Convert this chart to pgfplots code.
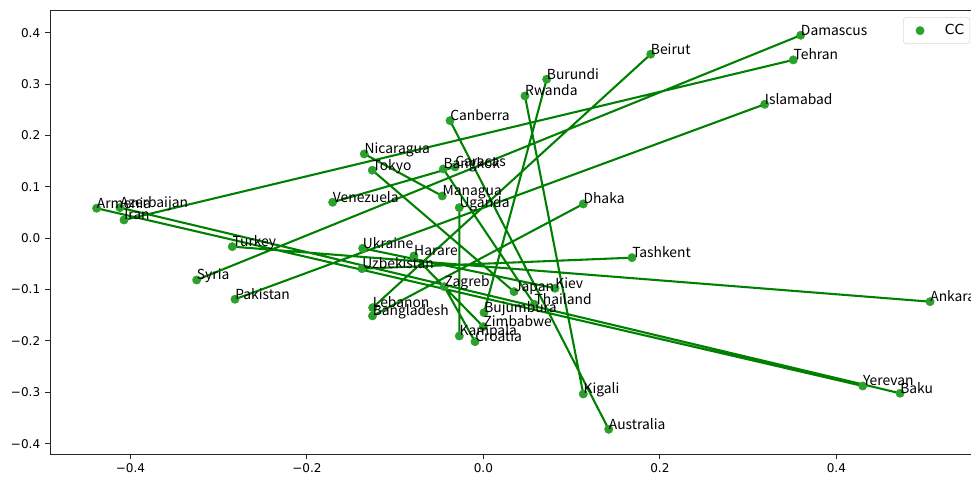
\documentclass[border=0pt]{standalone}
\usepackage{fontspec}
\setmainfont{DejaVu Sans}
\newfontfamily\jpfont{Noto Sans CJK JP}
\usepackage{pgfplots}
\usepackage{pgfplotstable}
\pgfplotsset{compat=1.18}
\definecolor{scat}{RGB}{44,160,44}
\definecolor{ln}{RGB}{0,128,0}

\pgfplotstableread{
x y label
-0.4383 0.0582 Armenia
0.4299 -0.2877 Yerevan
nan nan -
-0.4119 0.0594 Azerbaijan
0.4722 -0.3019 Baku
nan nan -
-0.4073 0.0354 Iran
0.3512 0.3469 Tehran
nan nan -
-0.3249 -0.0814 Syria
0.3596 0.3949 Damascus
nan nan -
-0.2815 -0.1189 Pakistan
0.3188 0.2606 Islamabad
nan nan -
-0.2846 -0.0165 Turkey
0.5062 -0.1236 Ankara
nan nan -
-0.1255 -0.1353 Lebanon
0.1896 0.3580 Beirut
nan nan -
-0.1257 -0.1514 Bangladesh
0.1132 0.0666 Dhaka
nan nan -
-0.1376 -0.0594 Uzbekistan
0.1684 -0.0380 Tashkent
nan nan -
-0.1368 -0.0197 Ukraine
0.0812 -0.0975 Kiev
nan nan -
-0.1708 0.0699 Venezuela
-0.0322 0.1387 Caracas
nan nan -
-0.1350 0.1639 Nicaragua
-0.0466 0.0821 Managua
nan nan -
0.0347 -0.1041 Japan
-0.1259 0.1322 Tokyo
nan nan -
0.0577 -0.1287 Thailand
-0.0454 0.1347 Bangkok
nan nan -
0.1420 -0.3720 Australia
-0.0378 0.2287 Canberra
nan nan -
-0.0095 -0.2015 Croatia
-0.0443 -0.0944 Zagreb
nan nan -
-0.0001 -0.1723 Zimbabwe
-0.0787 -0.0346 Harare
nan nan -
-0.0273 0.0594 Uganda
-0.0273 -0.1904 Kampala
nan nan -
0.0471 0.2768 Rwanda
0.1132 -0.3033 Kigali
nan nan -
0.0717 0.3093 Burundi
0.0007 -0.1450 Bujumbura
}\cc

\begin{document}
\begin{tikzpicture}
\begin{axis}[
  scale only axis,
  width=670pt, height=320.6pt,
  xmin=-0.4912, xmax=0.5594, ymin=-0.4206, ymax=0.4428,
  axis line style={black!85, line width=0.6pt},
  tick align=outside, tick pos=left,
  major tick length=3.5pt,
  every tick/.style={black!85, line width=0.6pt},
  xtick={-0.4,-0.2,0,0.2,0.4},
  xticklabels={−0.4,−0.2,0.0,0.2,0.4},
  ytick={-0.4,-0.3,-0.2,-0.1,0,0.1,0.2,0.3,0.4},
  yticklabels={−0.4,−0.3,−0.2,−0.1,0.0,0.1,0.2,0.3,0.4},
  ticklabel style={font=\fontsize{8.7}{10}\selectfont},
  legend style={at={(1,1)}, anchor=north east, xshift=-5pt, yshift=-4.8pt,
    draw=black!15, rounded corners=2pt, fill=white,
    font=\fontsize{10}{12}\selectfont, inner xsep=2pt, inner ysep=3pt},
  legend image code/.code={\path[draw=none, fill=none] (0pt,-4pt) (26pt,4pt);
    \draw[#1, sharp corners] plot coordinates {(10pt,0pt)};},
  clip=false,
]
\coordinate (sw) at (rel axis cs:0,0);
\coordinate (ne) at (rel axis cs:1,1);
\addplot[only marks, mark=*, mark size=3pt, color=scat,
  mark options={draw=scat, fill=scat}] table[x=x, y=y] {\cc};
\addlegendentry{CC}
\addplot[ln, line width=1.5pt, unbounded coords=jump, forget plot]
  table[x=x, y=y] {\cc};
\addplot[draw=none, mark=none, forget plot,
  nodes near coords, point meta=explicit symbolic,
  nodes near coords style={anchor=base west, inner sep=0pt, text=black,
    font=\jpfont\fontsize{10}{12}\selectfont}]
  table[x=x, y=y, meta=label] {\cc};
\end{axis}
\pgfresetboundingbox
\path[use as bounding box] ([xshift=-36.1pt,yshift=-18.6pt]sw) rectangle ([xshift=-4.34pt,yshift=7.7pt]ne);
\end{tikzpicture}
\end{document}
